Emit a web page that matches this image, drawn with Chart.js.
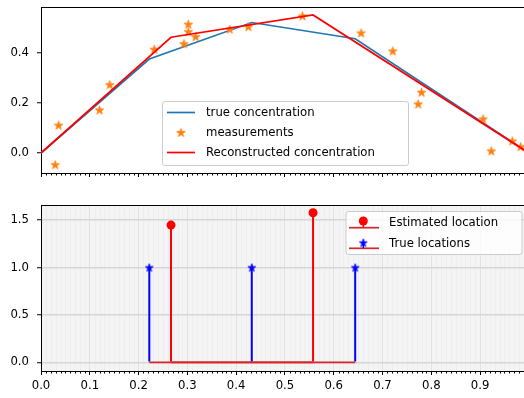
<!DOCTYPE html>
<html>
<head>
<meta charset="utf-8">
<script src="https://cdn.jsdelivr.net/npm/chart.js@4.4.1/dist/chart.umd.min.js"></script>
<style>
  html, body { margin: 0; padding: 0; background: #fff; }
  #wrap { position: relative; width: 524px; height: 398px; overflow: hidden; }
  #top { position: absolute; left: 0; top: 0; }
  #bot { position: absolute; left: 0; top: 190px; }
</style>
</head>
<body>
<div id="wrap">
  <div id="top"><canvas id="c1" width="524" height="190"></canvas></div>
  <div id="bot"><canvas id="c2" width="524" height="208"></canvas></div>
</div>
<script>
// ---- data ----
var xTicks = [0, 0.1, 0.2, 0.3, 0.4, 0.5, 0.6, 0.7, 0.8, 0.9];
var topYTicks = [0, 0.2, 0.4];
var botYTicks = [0, 0.5, 1.0, 1.5];

var trueX = [0, 0.222, 0.432, 0.644, 1.0];
var trueY = [0, 0.376, 0.522, 0.457, 0];

var recX = [0, 0.2665, 0.5576, 1.0];
var recY = [0, 0.463, 0.552, 0];

var measX = [0.029, 0.036, 0.120, 0.141, 0.232, 0.293, 0.302, 0.302, 0.317, 0.387,
             0.425, 0.536, 0.656, 0.721, 0.780, 0.773, 0.906, 0.923, 0.966, 0.983];
var measY = [-0.047, 0.111, 0.172, 0.273, 0.415, 0.437, 0.515, 0.485, 0.465, 0.495,
             0.505, 0.548, 0.480, 0.408, 0.243, 0.196, 0.136, 0.008, 0.048, 0.025];

var estLoc = [0.2665, 0.5576];
var estAmp = [1.448, 1.578];
var trueLoc = [0.222, 0.432, 0.644];
var trueAmp = [1, 1, 1];

// ---- helpers ----
function pts(xs, ys) {
    return xs.map(function (x, i) { return { x: x, y: ys[i] }; });
}

function baseline(xs) {
    return [
        { x: Math.min.apply(null, xs), y: 0 },
        { x: Math.max.apply(null, xs), y: 0 },
    ];
}

function starCanvas(color, r) {
    var s = Math.ceil(r * 2 + 3);
    var c = document.createElement("canvas");
    c.width = s;
    c.height = s;
    var g = c.getContext("2d");
    g.translate(s / 2, s / 2 + r * 0.08);
    g.beginPath();
    for (var i = 0; i < 10; i++) {
        var rad = i % 2 === 0 ? r : r * 0.382;
        var a = -Math.PI / 2 + (i * Math.PI) / 5;
        g.lineTo(rad * Math.cos(a), rad * Math.sin(a));
    }
    g.closePath();
    g.fillStyle = color;
    g.fill();
    g.lineWidth = 0.8;
    g.strokeStyle = color;
    g.stroke();
    return c;
}

var orangeStar = starCanvas("#ff7f0e", 4.6);
var blueStar = starCanvas("#0000ff", 4.2);

var minorTicks = [];
for (var i = 1; i < 100; i++) {
    if (i % 10 !== 0) minorTicks.push(i / 100);
}

var FONT = '"DejaVu Sans", sans-serif';
Chart.defaults.font.family = FONT;
Chart.defaults.font.size = 11.7;
Chart.defaults.color = "#000";

function fixTicks(list) {
    return function (scale) {
        scale.ticks = list.map(function (v) { return { value: v }; });
    };
}

// spines + minor ticks (and minor grid for the lower panel)
function axesPlugin(minorGrid) {
    return {
        id: "axesDeco",
        beforeDraw: function (chart) {
            if (!minorGrid) return;
            var a = chart.chartArea, ctx = chart.ctx, xs = chart.scales.x;
            ctx.save();
            ctx.fillStyle = "#f4f4f4";
            ctx.fillRect(a.left, a.top, a.right - a.left, a.bottom - a.top);
            ctx.strokeStyle = "#eeeeee";
            ctx.lineWidth = 1;
            minorTicks.forEach(function (v) {
                var px = Math.round(xs.getPixelForValue(v)) + 0.5;
                ctx.beginPath();
                ctx.moveTo(px, a.top);
                ctx.lineTo(px, a.bottom);
                ctx.stroke();
            });
            ctx.restore();
        },
        afterDraw: function (chart) {
            var a = chart.chartArea, ctx = chart.ctx, xs = chart.scales.x;
            ctx.save();
            ctx.strokeStyle = "#000";
            ctx.lineWidth = 1;
            minorTicks.forEach(function (v) {
                var px = Math.round(xs.getPixelForValue(v)) + 0.5;
                ctx.beginPath();
                ctx.moveTo(px, a.bottom);
                ctx.lineTo(px, a.bottom + 2.5);
                ctx.stroke();
            });
            ctx.beginPath();
            ctx.moveTo(a.left, Math.round(a.top) + 0.5);
            ctx.lineTo(a.right, Math.round(a.top) + 0.5);
            ctx.stroke();
            ctx.restore();
        },
    };
}

function legendBox(ctx, x, y, w, h) {
    var r = 2.5;
    ctx.beginPath();
    ctx.moveTo(x + r, y);
    ctx.arcTo(x + w, y, x + w, y + h, r);
    ctx.arcTo(x + w, y + h, x, y + h, r);
    ctx.arcTo(x, y + h, x, y, r);
    ctx.arcTo(x, y, x + w, y, r);
    ctx.closePath();
    ctx.fillStyle = "rgba(255,255,255,0.8)";
    ctx.fill();
    ctx.strokeStyle = "#cccccc";
    ctx.lineWidth = 1;
    ctx.stroke();
}

function seg(ctx, x1, y1, x2, y2, color, w) {
    ctx.beginPath();
    ctx.moveTo(x1, y1);
    ctx.lineTo(x2, y2);
    ctx.strokeStyle = color;
    ctx.lineWidth = w;
    ctx.stroke();
}

var topLegend = {
    id: "topLegend",
    afterDraw: function (chart) {
        var ctx = chart.ctx;
        ctx.save();
        legendBox(ctx, 162.5, 101.5, 246, 64);
        seg(ctx, 167, 112.5, 195, 112.5, "#1f77b4", 1.7);
        ctx.drawImage(orangeStar, 181 - orangeStar.width / 2, 132.5 - orangeStar.height / 2);
        seg(ctx, 167, 152.5, 195, 152.5, "#ff0000", 1.7);
        ctx.fillStyle = "#000";
        ctx.font = "11.7px " + FONT;
        ctx.textBaseline = "middle";
        ctx.fillText("true concentration", 206, 112.5);
        ctx.fillText("measurements", 206, 133);
        ctx.fillText("Reconstructed concentration", 206, 153);
        ctx.restore();
    },
};

var botLegend = {
    id: "botLegend",
    afterDraw: function (chart) {
        var ctx = chart.ctx;
        ctx.save();
        legendBox(ctx, 346, 21.5, 176, 43);
        seg(ctx, 349, 37.7, 379, 37.7, "#d62728", 1.7);
        seg(ctx, 363.3, 37.7, 363.3, 31, "#ff0000", 1.5);
        ctx.beginPath();
        ctx.arc(363.3, 31, 4.5, 0, Math.PI * 2);
        ctx.fillStyle = "#ff0000";
        ctx.fill();
        seg(ctx, 349, 58.3, 379, 58.3, "#d62728", 1.7);
        seg(ctx, 363.3, 58.3, 363.3, 53, "#0000ff", 1.5);
        ctx.drawImage(blueStar, 363.3 - blueStar.width / 2, 52.7 - blueStar.height / 2);
        ctx.fillStyle = "#000";
        ctx.font = "11.7px " + FONT;
        ctx.textBaseline = "middle";
        ctx.fillText("Estimated location", 389, 32.5);
        ctx.fillText("True locations", 389, 53.5);
        ctx.restore();
    },
};

function xScale(showLabels, gridOn, height) {
    return {
        type: "linear",
        min: 0,
        max: 0.99,
        offset: false,
        afterBuildTicks: fixTicks(xTicks),
        afterFit: function (s) {
            s.height = height;
            s.paddingLeft = 0;
            s.paddingRight = 0;
        },
        grid: {
            offset: false,
            drawOnChartArea: gridOn,
            color: "#e2e2e2",
            lineWidth: 1,
            drawTicks: true,
            tickLength: 4,
            tickColor: "#000",
            tickWidth: 1,
        },
        border: { display: true, color: "#000", width: 1 },
        ticks: {
            autoSkip: false,
            maxRotation: 0,
            padding: 4,
            callback: function (v) { return showLabels ? v.toFixed(1) : ""; },
        },
    };
}

function yScale(min, max, list, gridOn) {
    return {
        type: "linear",
        min: min,
        max: max,
        afterBuildTicks: fixTicks(list),
        afterFit: function (s) {
            s.width = 41;
            s.paddingTop = 0;
            s.paddingBottom = 0;
        },
        grid: {
            drawOnChartArea: gridOn,
            color: "#d6d6d6",
            lineWidth: 1.5,
            drawTicks: true,
            tickLength: 4,
            tickColor: "#000",
            tickWidth: 1,
        },
        border: { display: true, color: "#000", width: 1 },
        ticks: {
            padding: 8,
            callback: function (v) { return v.toFixed(1); },
        },
    };
}

var common = {
    responsive: false,
    animation: false,
    events: [],
    plugins: { legend: { display: false }, tooltip: { enabled: false } },
};

// ---- upper panel ----
new Chart(document.getElementById("c1"), {
    type: "scatter",
    data: {
        datasets: [
            {
                label: "true concentration",
                data: pts(trueX, trueY),
                showLine: true,
                borderColor: "#1f77b4",
                borderWidth: 1.7,
                pointRadius: 0,
                order: 3,
            },
            {
                label: "measurements",
                data: pts(measX, measY),
                pointStyle: orangeStar,
                pointRadius: 5,
                order: 2,
            },
            {
                label: "Reconstructed concentration",
                data: pts(recX, recY),
                showLine: true,
                borderColor: "#ff0000",
                borderWidth: 1.7,
                pointRadius: 0,
                order: 1,
            },
        ],
    },
    options: Object.assign({}, common, {
        // no automatic room for markers: the axes run to the right edge
        layout: { autoPadding: false, padding: { top: 7, left: 0, right: 0, bottom: 0 } },
        clip: false,
        scales: {
            x: xScale(false, false, 17),
            y: yScale(-0.08, 0.584, topYTicks, false),
        },
    }),
    plugins: [axesPlugin(false), topLegend],
});

// ---- lower panel ----
new Chart(document.getElementById("c2"), {
    type: "scatter",
    data: {
        datasets: [
            {
                type: "bar",
                data: pts(estLoc, estAmp),
                backgroundColor: "#ff0000",
                borderWidth: 0,
                grouped: false,
                maxBarThickness: 2,
                order: 6,
            },
            {
                type: "bar",
                data: pts(trueLoc, trueAmp),
                backgroundColor: "#0000ff",
                borderWidth: 0,
                grouped: false,
                maxBarThickness: 2,
                order: 5,
            },
            {
                data: baseline(estLoc),
                showLine: true,
                borderColor: "#d62728",
                borderWidth: 1.7,
                pointRadius: 0,
                order: 4,
            },
            {
                data: baseline(trueLoc),
                showLine: true,
                borderColor: "#d62728",
                borderWidth: 1.7,
                pointRadius: 0,
                order: 3,
            },
            {
                label: "Estimated location",
                data: pts(estLoc, estAmp),
                pointStyle: "circle",
                pointRadius: 4.5,
                backgroundColor: "#ff0000",
                borderColor: "#ff0000",
                borderWidth: 0,
                order: 2,
            },
            {
                label: "True locations",
                data: pts(trueLoc, trueAmp),
                pointStyle: blueStar,
                pointRadius: 5,
                order: 1,
            },
        ],
    },
    options: Object.assign({}, common, {
        layout: { autoPadding: false, padding: { top: 15, left: 0, right: 0, bottom: 0 } },
        clip: false,
        scales: {
            x: xScale(true, true, 27),
            y: yScale(-0.092, 1.66, botYTicks, true),
        },
    }),
    plugins: [axesPlugin(true), botLegend],
});
</script>
</body>
</html>
